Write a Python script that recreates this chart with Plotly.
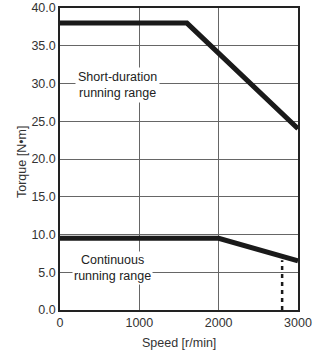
import plotly.graph_objects as go

short_speed = [0, 1600, 3000]
short_torque = [38.0, 38.0, 24.0]
cont_speed = [0, 2000, 3000]
cont_torque = [9.5, 9.5, 6.5]
dash_speed = [2800, 2800]
dash_torque = [0.0, 6.6]
x_ticks = [0, 1000, 2000, 3000]
y_ticks = [0, 5, 10, 15, 20, 25, 30, 35, 40]
y_labels = [f"{v:.1f}" for v in y_ticks]

font = "Liberation Sans, Arial, sans-serif"
fs = 12.5
fig = go.Figure()
fig.add_trace(go.Scatter(x=short_speed, y=short_torque, mode="lines",
                         line=dict(color="#1a1a1a", width=5), hoverinfo="skip"))
fig.add_trace(go.Scatter(x=cont_speed, y=cont_torque, mode="lines",
                         line=dict(color="#1a1a1a", width=5), hoverinfo="skip"))
fig.add_trace(go.Scatter(x=dash_speed, y=dash_torque, mode="lines",
                         line=dict(color="#1a1a1a", width=2.5, dash="4px,4px"), hoverinfo="skip"))

fig.add_annotation(x=725, y=29.8, text="Short-duration<br>running range", showarrow=False,
                   bgcolor="white", font=dict(size=fs, color="#222", family=font), xanchor="center",
                   yanchor="middle", borderpad=2)
fig.add_annotation(x=660, y=5.6, text="Continuous<br>running range", showarrow=False,
                   bgcolor="white", font=dict(size=fs, color="#222", family=font), xanchor="center",
                   yanchor="middle", borderpad=1)
# axis titles
fig.add_annotation(x=0.5, y=0, xref="paper", yref="paper", yshift=-33, text="Speed [r/min]",
                   showarrow=False, font=dict(size=fs, color="#333", family=font), yanchor="middle")
fig.add_annotation(x=0, y=0.49, xref="paper", yref="paper", xshift=-38, text="Torque [N•m]",
                   textangle=-90, showarrow=False, font=dict(size=fs, color="#333", family=font),
                   xanchor="center", yanchor="middle")

fig.update_layout(
    width=325, height=361, margin=dict(l=60, r=27, t=8, b=51),
    paper_bgcolor="white", plot_bgcolor="white", showlegend=False,
    font=dict(family=font, size=fs, color="#333"),
    xaxis=dict(range=[0, 3000], tickvals=x_ticks, showgrid=True, gridcolor="#666", gridwidth=1,
               showline=True, linecolor="#222", linewidth=1.5, mirror=True, zeroline=False,
               ticks="", automargin=False, tickfont=dict(size=fs)),
    yaxis=dict(range=[0, 40], tickvals=y_ticks, ticktext=y_labels, showgrid=True, gridcolor="#666",
               gridwidth=1, showline=True, linecolor="#222", linewidth=1.5, mirror=True, zeroline=False,
               ticks="", automargin=False, tickfont=dict(size=fs)),
)
fig.write_html("out.html", config={"displayModeBar": False},
               post_script="document.body.style.margin='0px';")
